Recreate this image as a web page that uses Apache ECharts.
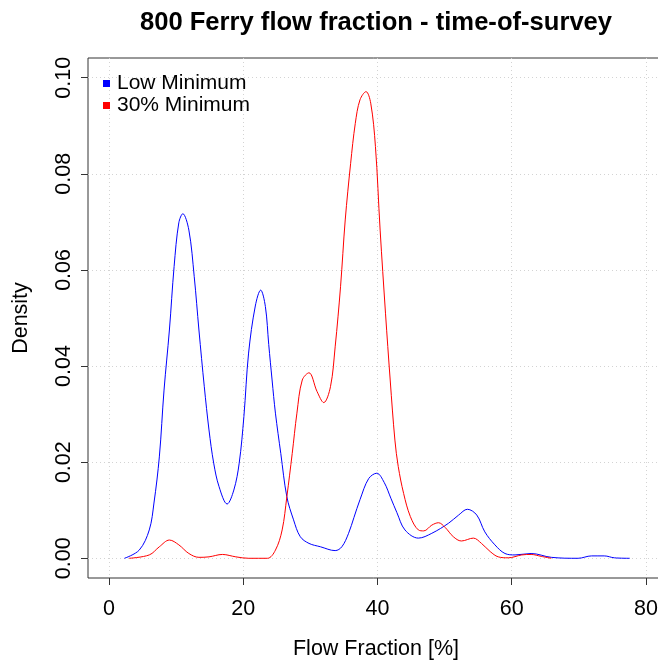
<!DOCTYPE html>
<html>
<head>
<meta charset="utf-8">
<title>800 Ferry flow fraction - time-of-survey</title>
<script src="https://cdn.jsdelivr.net/npm/echarts@6/dist/echarts.min.js"></script>
<style>
  html, body { margin: 0; padding: 0; background: #ffffff; overflow: hidden; }
  #chart { width: 658px; height: 662px; }
</style>
</head>
<body>
<div id="chart"></div>
<script>
// Kernel density of flow fraction, low-minimum runs
const lowX = [2.3, 4.5, 6.0, 6.7, 7.5, 8.2, 9.0, 9.7, 10.4, 11.0, 11.9, 12.7, 13.4, 14.2, 14.9, 15.6, 16.4, 17.6, 18.6, 19.4,
  20.1, 20.8, 21.8, 22.6, 23.3, 23.8, 24.3, 24.8, 25.6, 26.5, 27.5, 28.5, 29.8, 31.5, 33.7, 34.7, 35.7, 36.5, 37.4, 38.7,
  39.9, 41.0, 42.0, 42.9, 44.1, 46.1, 48.1, 50.6, 52.1, 53.4, 54.8, 56.0, 57.5, 59.0, 60.5, 62.9, 65.9, 69.9, 71.9, 73.8,
  75.3, 77.6];
const lowY = [0.0, 0.0017, 0.0059, 0.0115, 0.0211, 0.0350, 0.0475, 0.0607, 0.0698, 0.0717, 0.0683, 0.0586, 0.0475, 0.0357, 0.0267, 0.0198, 0.0149, 0.0113, 0.0142, 0.0198,
  0.0295, 0.0427, 0.0525, 0.0558, 0.0524, 0.0445, 0.0371, 0.0302, 0.0218, 0.0128, 0.0080, 0.0045, 0.0031, 0.0024, 0.0016, 0.0024, 0.0052, 0.0085, 0.0122, 0.0166,
  0.0177, 0.0158, 0.0125, 0.0095, 0.0059, 0.0042, 0.0052, 0.0073, 0.0090, 0.0102, 0.0090, 0.0055, 0.0028, 0.0010, 0.0007, 0.0010, 0.0002, 0.0, 0.0005, 0.0005,
  0.0001, 0.0];

// Kernel density of flow fraction, 30% minimum runs
const minX = [3.0, 6.0, 7.5, 9.0, 10.4, 11.9, 13.4, 14.9, 16.9, 18.9, 20.8, 23.6, 24.8, 25.8, 26.5, 27.3, 28.0, 28.8, 29.8, 31.0,
  32.0, 33.0, 33.7, 34.5, 35.2, 36.0, 36.7, 37.4, 38.3, 39.0, 39.7, 40.4, 41.2, 41.9, 42.6, 43.1, 43.9, 44.9, 46.1, 46.9,
  48.1, 49.1, 50.1, 51.3, 52.5, 54.3, 55.5, 56.8, 58.0, 59.5, 61.5, 62.9, 64.4, 65.9];
const minY = [0.0, 0.0007, 0.0024, 0.0038, 0.0028, 0.0010, 0.0002, 0.0003, 0.0008, 0.0003, 0.0, 0.0, 0.0017, 0.0059, 0.0128, 0.0218, 0.0302, 0.0371, 0.0386, 0.0347,
  0.0324, 0.0357, 0.0440, 0.0565, 0.0704, 0.0821, 0.0905, 0.0954, 0.0971, 0.0947, 0.0857, 0.0683, 0.0510, 0.0371, 0.0246, 0.0191, 0.0135, 0.0087, 0.0059, 0.0057,
  0.0069, 0.0074, 0.0064, 0.0045, 0.0036, 0.0042, 0.0031, 0.0014, 0.0003, 0.0001, 0.0007, 0.0008, 0.0004, 0.0];

const seriesNames = ['Low Minimum', '30% Minimum'];
const xTicks = [0, 20, 40, 60, 80];
const yTicks = [0, 0.02, 0.04, 0.06, 0.08, 0.10];

const pairs = (xs, ys) => xs.map((x, i) => [x, ys[i]]);
const FONT = '"Liberation Sans", Arial, Helvetica, sans-serif';

const chart = echarts.init(document.getElementById('chart'), null, { renderer: 'canvas' });

const gridLine = { show: true, lineStyle: { color: '#d3d3d3', width: 1, type: [1, 3] } };

chart.setOption({
  animation: false,
  backgroundColor: '#ffffff',
  title: {
    text: '800 Ferry flow fraction - time-of-survey',
    left: 371,
    top: 5,
    textAlign: 'center',
    textStyle: { fontFamily: FONT, fontWeight: 'bold', fontSize: 25.6, color: '#000000' }
  },
  legend: {
    data: seriesNames,
    orient: 'vertical',
    left: 98,
    top: 68,
    icon: 'rect',
    itemWidth: 7,
    itemHeight: 7,
    itemGap: 1,
    textStyle: { fontFamily: FONT, fontSize: 21, color: '#000000', padding: [0, 0, 0, 2] }
  },
  grid: {
    left: 88,
    width: 576,
    top: 58,
    height: 520,
    containLabel: false,
    outerBoundsMode: 'none',
    show: true,
    borderColor: '#333333',
    borderWidth: 1,
    backgroundColor: 'transparent'
  },
  xAxis: {
    type: 'value',
    min: -3.13,
    max: 82.7,
    name: 'Flow Fraction [%]',
    nameLocation: 'middle',
    nameGap: 60,
    nameTextStyle: { fontFamily: FONT, fontSize: 21.5, color: '#000000' },
    axisLine: { show: false, onZero: false },
    axisTick: { show: true, inside: false, length: 7, customValues: xTicks, lineStyle: { color: '#333333' } },
    axisLabel: { customValues: xTicks, margin: 20, fontFamily: FONT, fontSize: 21.5, color: '#000000' },
    splitLine: gridLine
  },
  yAxis: {
    type: 'value',
    min: -0.0041,
    max: 0.1041,
    name: 'Density',
    nameLocation: 'middle',
    nameGap: 56,
    nameRotate: 90,
    nameTextStyle: { fontFamily: FONT, fontSize: 21.5, color: '#000000' },
    axisLine: { show: false, onZero: false },
    axisTick: { show: true, inside: false, length: 7, customValues: yTicks, lineStyle: { color: '#333333' } },
    axisLabel: {
      customValues: yTicks,
      rotate: 90,
      margin: 13,
      fontFamily: FONT,
      fontSize: 21.5,
      color: '#000000',
      formatter: v => v.toFixed(2)
    },
    splitLine: gridLine
  },
  series: [
    {
      name: seriesNames[0],
      type: 'line',
      data: pairs(lowX, lowY),
      showSymbol: false,
      symbol: 'none',
      smooth: 0.35,
      color: '#0000ff',
      lineStyle: { color: '#0000ff', width: 1 },
      z: 3
    },
    {
      name: seriesNames[1],
      type: 'line',
      data: pairs(minX, minY),
      showSymbol: false,
      symbol: 'none',
      smooth: 0.35,
      color: '#ff0000',
      lineStyle: { color: '#ff0000', width: 1 },
      z: 4
    }
  ]
});
</script>
</body>
</html>
